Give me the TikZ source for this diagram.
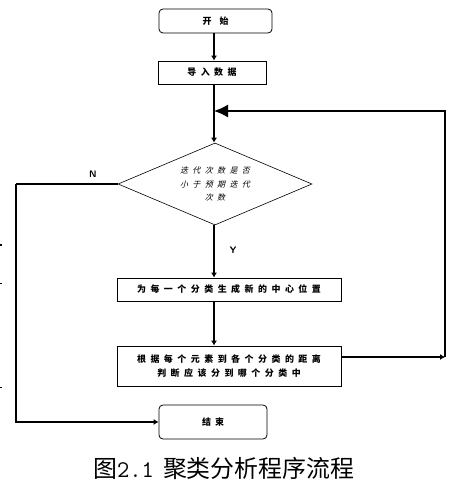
\documentclass[tikz,border=0pt]{standalone}
\usepackage{fontspec}
\usetikzlibrary{shapes.geometric,arrows.meta}
\newfontfamily\cjkbox[LetterSpace=50]{Noto Sans CJK SC}
\newfontfamily\cjkslant[FakeSlant=0.25,LetterSpace=55]{Noto Sans CJK SC}
\newfontfamily\capfont{Noto Sans CJK SC}
\begin{document}
\begin{tikzpicture}[x=1bp,y=-1bp,
  boxtext/.style={font=\cjkbox\bfseries\fontsize{9}{13.5}\selectfont, align=center},
  procbox/.style={draw, line width=0.8bp, rectangle, inner sep=0, boxtext},
  termbox/.style={draw, line width=0.8bp, rectangle, rounded corners=4bp, inner sep=0, boxtext},
  conn/.style={line width=1.6bp, -{Latex[length=5bp,width=6bp]}},
  plainconn/.style={line width=1.6bp},
  lbl/.style={font=\sffamily\bfseries\fontsize{9.5}{10}\selectfont, inner sep=0}]
\useasboundingbox (0,0) rectangle (461,496);
% nodes
\node[termbox, minimum width=113bp, minimum height=24bp] (start) at (215.5,21) {开\hspace{8bp}始};
\node[procbox, minimum width=108bp, minimum height=23bp] (imp) at (212,72.5) {导入数据};
\node[draw, diamond, line width=0.6bp, minimum width=194bp, minimum height=82bp, inner sep=0,
      label={[font=\cjkslant\fontsize{8}{14}\selectfont, align=center]center:{迭代次数是否\\小于预期迭代\\次数}}] (dec) at (215,184) {};
\node[procbox, minimum width=224bp, minimum height=23bp] (box1) at (229,289.5) {为每一个分类生成新的中心位置};
\node[procbox, minimum width=224bp, minimum height=40bp] (box2) at (229,366) {根据每个元素到各个分类的距离\\判断应该分到哪个分类中};
\node[termbox, minimum width=108bp, minimum height=34bp] (end) at (213,422) {结\hspace{4bp}束};
% coordinates
\coordinate (r1) at (445,357);
\coordinate (join) at (214,111);
\coordinate (l1) at (16,184);
% connectors
\draw[conn] (start.south -| join) -- (imp.north -| join);
\draw[conn] (imp.south -| join) -- (dec.north -| join);
\draw[conn] (dec.south -| join) -- (box1.north -| join);
\draw[conn] (box1.south -| join) -- (box2.north -| join);
\draw[line width=1.2bp, -{Latex[length=5bp,width=6bp]}] (box2.east |- r1) -- (r1);
\draw[line width=1.2bp, -{Latex[length=14bp,width=13bp]}] (r1) |- (join);
\draw[plainconn] (dec.west) -- (l1);
\draw[conn] (l1) |- (end.west);
% labels
\node[lbl] (nlab) at (93,174) {N};
\node[lbl] (ylab) at (233,250) {Y};
% stray ticks at left edge
\draw[line width=2.5bp] (0,245) -- (2,245);
\draw[line width=0.6bp] (0,283) -- (2,283);
\draw[line width=0.6bp] (0,387) -- (2,387);
% caption
\node[font=\capfont\fontsize{24}{26}\selectfont, inner sep=0, anchor=west] (cap) at (93,468) {图{\ttfamily 2.1}\hspace{9bp}聚类分析程序流程};
\end{tikzpicture}
\end{document}
